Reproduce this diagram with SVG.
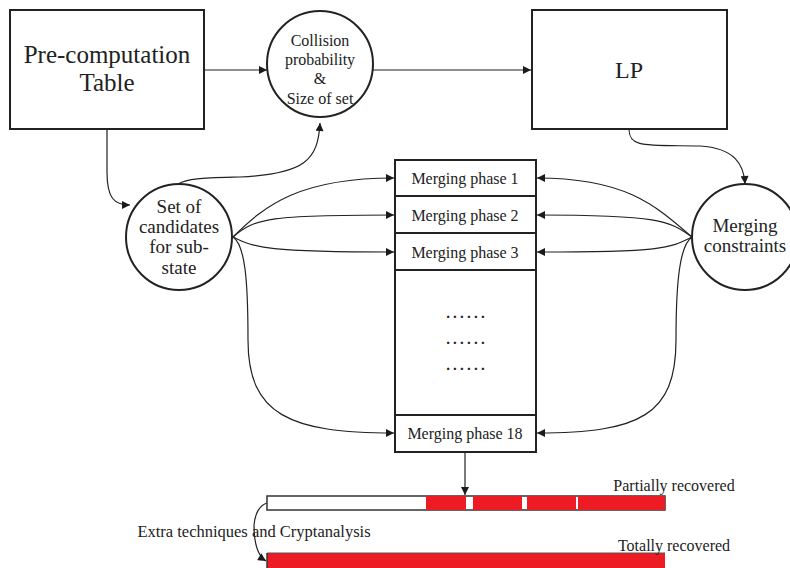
<svg xmlns="http://www.w3.org/2000/svg" width="790" height="568" viewBox="0 0 790 568">
<defs>
<marker id="ah" viewBox="0 0 10 10" refX="10" refY="5" markerWidth="9" markerHeight="8" markerUnits="userSpaceOnUse" orient="auto">
<path d="M0,0 L10,5 L0,10 z" fill="#1a1a1a"/>
</marker>
<style>
.box{fill:#fff;stroke:#222;stroke-width:2}
.t{font-family:"Liberation Serif","DejaVu Serif",serif;fill:#222;text-anchor:middle}
.c{fill:none;stroke:#222;stroke-width:1.2;marker-end:url(#ah)}
.red{fill:#ED1C24}
.dots{letter-spacing:3.2px;font-weight:bold}
</style>
</defs>
<rect width="790" height="568" fill="#fff"/>

<g id="connectors">
<path class="c" d="M205 70 L267 70"/>
<path class="c" d="M373 70 L531 70"/>
<path class="c" d="M107 129 L107 172 C107 198 114 205 130 205"/>
<path class="c" d="M178 184 C188 178 205 178 240 177 C305 174 318 160 320 123"/>
<path class="c" d="M233 237 C265 205 300 178 394 178"/>
<path class="c" d="M233 237 C255 218 270 215 394 215"/>
<path class="c" d="M233 237 C255 248 268 252 394 252"/>
<path class="c" d="M233 237 C245 245 248 280 248 340 C248 415 290 433 394 433"/>
<path class="c" d="M629 129 C629 148 645 145 700 146 C735 148 744 165 745 184"/>
<path class="c" d="M692 237 C655 205 625 178 537 178"/>
<path class="c" d="M692 237 C670 222 665 215 537 215"/>
<path class="c" d="M692 237 C670 248 665 252 537 252"/>
<path class="c" d="M692 237 C680 245 676 280 676 340 C676 415 640 433 537 433"/>
<path class="c" d="M465 452 L465 495"/>
<path class="c" d="M267 503 C258 506 255 515 254 525 C254 545 258 556 266 561"/>
</g>

<g id="precomp">
<rect class="box" x="10" y="10" width="194" height="119"/>
<text class="t" x="107" y="63" font-size="25">Pre-computation</text>
<text class="t" x="107" y="91" font-size="25">Table</text>
</g>

<g id="collision">
<circle class="box" cx="320" cy="64" r="53"/>
<text class="t" x="320" y="46" font-size="16">Collision</text>
<text class="t" x="320" y="65" font-size="16">probability</text>
<text class="t" x="320" y="84" font-size="16">&amp;</text>
<text class="t" x="320" y="104" font-size="16">Size of set</text>
</g>

<g id="lp">
<rect class="box" x="532" y="10" width="195" height="119"/>
<text class="t" x="629" y="78" font-size="24">LP</text>
</g>

<g id="candidates">
<circle class="box" cx="179" cy="237" r="53"/>
<text class="t" x="179" y="213" font-size="19">Set of</text>
<text class="t" x="179" y="233" font-size="19">candidates</text>
<text class="t" x="179" y="253" font-size="19">for sub-</text>
<text class="t" x="179" y="274" font-size="19">state</text>
</g>

<g id="constraints">
<circle class="box" cx="745" cy="237" r="53"/>
<text class="t" x="745" y="232" font-size="19">Merging</text>
<text class="t" x="745" y="252" font-size="19">constraints</text>
</g>

<g id="phases">
<rect class="box" x="395" y="160" width="141" height="292"/>
<line x1="395" y1="196" x2="536" y2="196" stroke="#222" stroke-width="2"/>
<line x1="395" y1="233" x2="536" y2="233" stroke="#222" stroke-width="2"/>
<line x1="395" y1="270" x2="536" y2="270" stroke="#222" stroke-width="2"/>
<line x1="395" y1="415" x2="536" y2="415" stroke="#222" stroke-width="2"/>
<text class="t" x="465" y="184" font-size="16">Merging phase 1</text>
<text class="t" x="465" y="221" font-size="16">Merging phase 2</text>
<text class="t" x="465" y="258" font-size="16">Merging phase 3</text>
<text class="t dots" x="467" y="318" font-size="15">......</text>
<text class="t dots" x="467" y="344" font-size="15">......</text>
<text class="t dots" x="467" y="370" font-size="15">......</text>
<text class="t" x="465" y="439" font-size="16">Merging phase 18</text>
</g>

<g id="partial">
<rect x="267" y="496" width="398" height="14" fill="#fff" stroke="#333" stroke-width="1.5"/>
<rect class="red" x="426" y="496" width="40" height="14"/>
<rect class="red" x="473" y="496" width="49" height="14"/>
<rect class="red" x="527" y="496" width="49" height="14"/>
<rect class="red" x="578" y="496" width="87" height="14"/>
<text class="t" x="674" y="491" font-size="16">Partially recovered</text>
</g>

<g id="total">
<rect class="red" x="267" y="553" width="398" height="15"/>
<line x1="267" y1="553" x2="665" y2="553" stroke="#555" stroke-width="1"/>
<line x1="267" y1="553" x2="267" y2="568" stroke="#333" stroke-width="1.5"/>
<text class="t" x="674" y="551" font-size="16">Totally recovered</text>
</g>

<g id="extra">
<text class="t" x="254" y="537" font-size="16.5">Extra techniques and Cryptanalysis</text>
</g>
</svg>
